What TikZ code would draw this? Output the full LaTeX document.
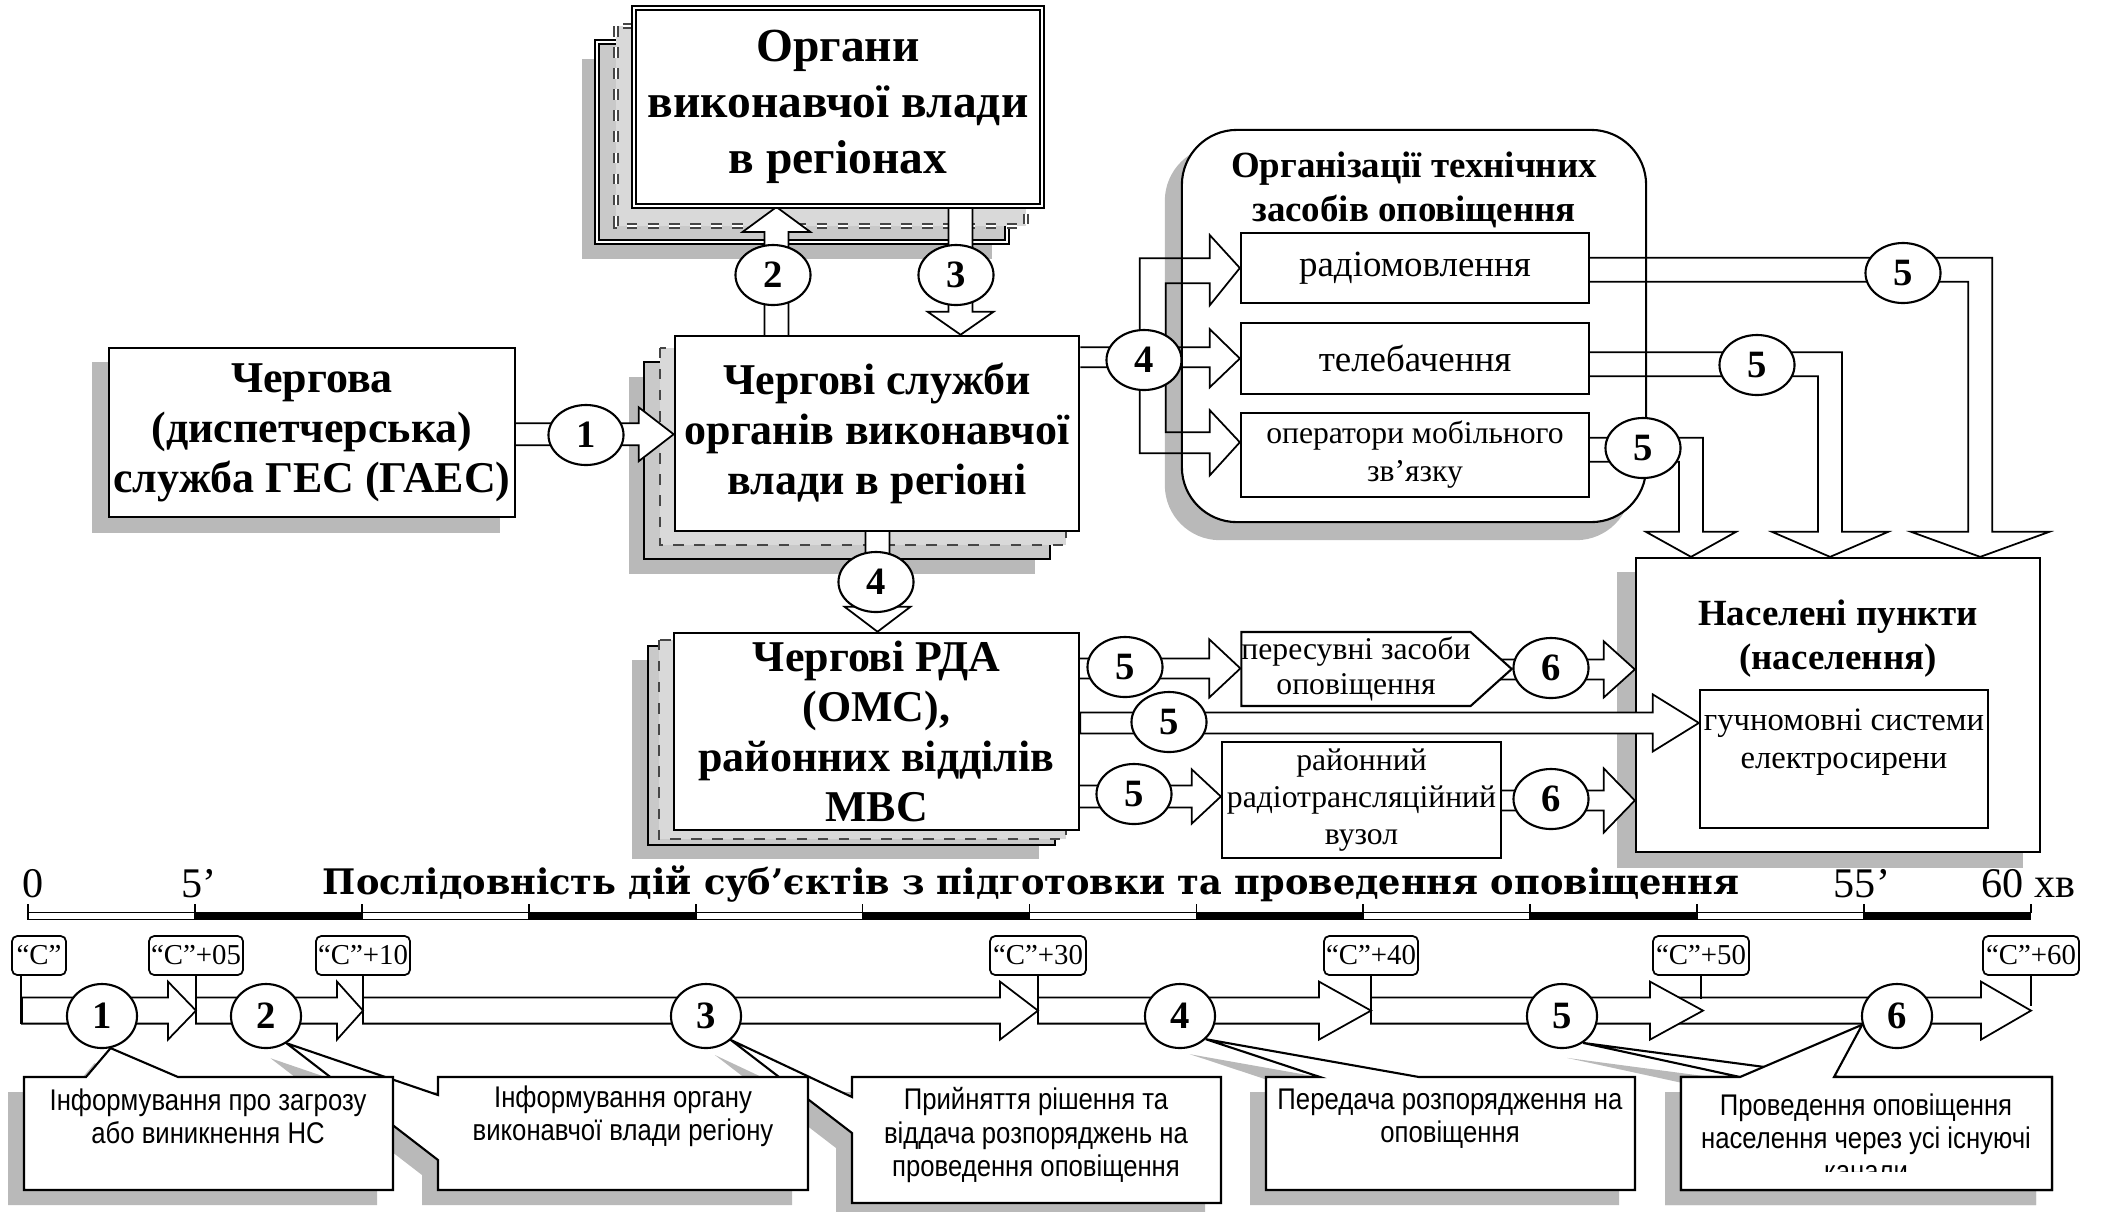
\documentclass[tikz,border=0pt]{standalone}
\usepackage{fontspec}
\setmainfont{Liberation Serif}
\newfontfamily\narrowfont[FakeStretch=0.86]{Liberation Sans}
\newfontfamily\slabfont{DejaVu Serif}
\usetikzlibrary{calc,positioning,shapes.geometric,shapes.symbols}

\pgfdeclarelayer{deep}
\pgfdeclarelayer{shade}
\pgfdeclarelayer{links}
\pgfsetlayers{deep,shade,links,main}

% one pixel of the layout
\def\pxu{0.284528pt}

\tikzset{
  box/.style = {draw, fill=white, line width=0.7pt, inner sep=0pt, align=center},
  bigbox/.style = {box, font=\fontsize{12.5}{14.2}\selectfont\bfseries},
  subbox/.style = {box, line width=0.6pt},
  num/.style = {draw, ellipse, fill=white, line width=0.6pt, inner sep=0pt,
    minimum width=0.75cm, minimum height=0.6cm, font=\fontsize{11}{12}\selectfont\bfseries},
  tnum/.style = {num, minimum width=0.7cm, minimum height=0.64cm},
  barrow/.style = {draw, fill=white, line width=0.5pt},
  openarrow/.style = {draw, line width=0.5pt},
  shadow/.style = {fill=gray!55},
  stackfar/.style = {fill=gray!55},
  stackmid/.style = {draw, fill=gray!42, line width=0.5pt},
  stacknear/.style = {draw=gray!55!black, fill=gray!30, dashed, line width=0.5pt},
  tag/.style = {draw, fill=white, rounded corners=1.5pt, line width=0.5pt, inner sep=0pt,
    minimum height=0.39cm, font=\fontsize{8.2}{10}\selectfont},
  callout/.style = {draw, fill=white, line width=0.6pt},
  calltext/.style = {align=center, inner sep=0pt, font=\narrowfont\fontsize{8.5}{9.4}\selectfont},
  scalelabel/.style = {anchor=base, inner sep=0pt, font=\fontsize{12}{13}\selectfont},
}

% block arrows: from, to, y or x (px), shaft half, head half, head length (px)
\newcommand\blockright[6]{%
  \draw[barrow] let \p1=(#1), \p2=(#2) in
    (\x1,-#3*\pxu+#4*\pxu) -- (\x2-#6*\pxu,-#3*\pxu+#4*\pxu) -- (\x2-#6*\pxu,-#3*\pxu+#5*\pxu)
    -- (\x2,-#3*\pxu) -- (\x2-#6*\pxu,-#3*\pxu-#5*\pxu) -- (\x2-#6*\pxu,-#3*\pxu-#4*\pxu)
    -- (\x1,-#3*\pxu-#4*\pxu) -- cycle;}
\newcommand\blockdown[6]{%
  \draw[barrow] let \p1=(#1), \p2=(#2) in
    (#3*\pxu-#4*\pxu,\y1) -- (#3*\pxu-#4*\pxu,\y2+#6*\pxu) -- (#3*\pxu-#5*\pxu,\y2+#6*\pxu)
    -- (#3*\pxu,\y2) -- (#3*\pxu+#5*\pxu,\y2+#6*\pxu) -- (#3*\pxu+#4*\pxu,\y2+#6*\pxu)
    -- (#3*\pxu+#4*\pxu,\y1) -- cycle;}
\newcommand\blockup[6]{%
  \draw[barrow] let \p1=(#1), \p2=(#2) in
    (#3*\pxu-#4*\pxu,\y1) -- (#3*\pxu-#4*\pxu,\y2-#6*\pxu) -- (#3*\pxu-#5*\pxu,\y2-#6*\pxu)
    -- (#3*\pxu,\y2) -- (#3*\pxu+#5*\pxu,\y2-#6*\pxu) -- (#3*\pxu+#4*\pxu,\y2-#6*\pxu)
    -- (#3*\pxu+#4*\pxu,\y1) -- cycle;}
% right, then down: from, to, y, x, shaft half, head half, head length
\newcommand\blockelbow[7]{%
  \draw[openarrow] let \p1=(#1), \p2=(#2) in
    (\x1,-#3*\pxu+#5*\pxu) -- (#4*\pxu+#5*\pxu,-#3*\pxu+#5*\pxu)
    -- (#4*\pxu+#5*\pxu,\y2+#7*\pxu) -- (#4*\pxu+#6*\pxu,\y2+#7*\pxu) -- (#4*\pxu,\y2)
    -- (#4*\pxu-#6*\pxu,\y2+#7*\pxu) -- (#4*\pxu-#5*\pxu,\y2+#7*\pxu)
    -- (#4*\pxu-#5*\pxu,-#3*\pxu-#5*\pxu) -- (\x1,-#3*\pxu-#5*\pxu);}

% pile of sheets behind a box: node, far, middle, near shift, extra style
\newcommand\stackbg[5]{%
  \begin{pgfonlayer}{shade}
    \fill[stackfar] ([shift={#2}]#1.north west) rectangle ([shift={#2}]#1.south east);
    \draw[stackmid,#5] ([shift={#3}]#1.north west) rectangle ([shift={#3}]#1.south east);
    \draw[stacknear,#5] ([shift={#4}]#1.north west) rectangle ([shift={#4}]#1.south east);
  \end{pgfonlayer}}
\newcommand\shadowof[2]{%
  \begin{pgfonlayer}{deep}
    \fill[shadow] ([shift={#2}]#1.north west) rectangle ([shift={#2}]#1.south east);
  \end{pgfonlayer}}

% callouts: apex, x1, y1, x2, y2, wedge ends
\newcommand\calltop[7]{%
  \begin{pgfonlayer}{deep}
    \fill[shadow] ([shift={(-16,15)}]#1) -- (#6-16,#3+15) -- (#2-16,#3+15) -- (#2-16,#5+15)
      -- (#4-16,#5+15) -- (#4-16,#3+15) -- (#7-16,#3+15) -- cycle;
  \end{pgfonlayer}
  \begin{pgfonlayer}{links}
    \draw[callout] (#1) -- (#6,#3) -- (#2,#3) -- (#2,#5) -- (#4,#5) -- (#4,#3) -- (#7,#3) -- cycle;
  \end{pgfonlayer}}
\newcommand\callleft[7]{%
  \begin{pgfonlayer}{deep}
    \fill[shadow] ([shift={(-16,15)}]#1) -- (#2-16,#6+15) -- (#2-16,#3+15) -- (#4-16,#3+15)
      -- (#4-16,#5+15) -- (#2-16,#5+15) -- (#2-16,#7+15) -- cycle;
  \end{pgfonlayer}
  \begin{pgfonlayer}{links}
    \draw[callout] (#1) -- (#2,#6) -- (#2,#3) -- (#4,#3) -- (#4,#5) -- (#2,#5) -- (#2,#7) -- cycle;
  \end{pgfonlayer}}

\begin{document}
\begin{tikzpicture}[x=0.01cm, y=-0.01cm]
  \useasboundingbox (0,0) rectangle (2112,1211);

  % Regional executive bodies
  \node[bigbox, double, double distance=0.6pt, line width=0.55pt,
        minimum width=4.08cm, minimum height=1.98cm,
        font=\fontsize{13.5}{16}\selectfont\bfseries] (org) at (838,107)
        {Органи\\виконавчої влади\\в регіонах};
  \stackbg{org}{(-51,52)}{(-36,35)}{(-17,19)}{double, double distance=0.6pt}

  % HPP dispatcher and duty services
  \node[bigbox, minimum width=4.06cm, minimum height=1.69cm] (gaes) at (312,432.5)
        {Чергова\\(диспетчерська)\\служба ГЕС (ГАЕС)};
  \shadowof{gaes}{(-16,15)}
  \node[bigbox, minimum width=4.04cm, minimum height=1.95cm] (sl) at (877,433.5)
        {Чергові служби\\органів виконавчої\\влади в регіоні};
  \stackbg{sl}{(-45,42)}{(-30,27)}{(-14,13)}{}
  \node[bigbox, minimum width=4.05cm, minimum height=1.97cm] (rda) at (876.5,731.5)
        {Чергові РДА\\(ОМС),\\районних відділів\\МВС};
  \stackbg{rda}{(-41,28)}{(-25,14)}{(-14,8)}{}

  % Warning facilities
  \begin{pgfonlayer}{shade}
    \node[draw, fill=white, line width=0.6pt, rounded corners=0.55cm,
          minimum width=4.64cm, minimum height=3.92cm] (org2) at (1414,326) {};
  \end{pgfonlayer}
  \begin{pgfonlayer}{deep}
    \fill[shadow, rounded corners=0.55cm] ([shift={(-16,17)}]org2.north west)
      rectangle ([shift={(-16,17)}]org2.south east);
  \end{pgfonlayer}
  \node[font=\fontsize{10.5}{12.5}\selectfont\bfseries, align=center] (org2t) at (1414,190)
        {Організації технічних\\засобів оповіщення};
  \node[subbox, minimum width=3.48cm, minimum height=0.70cm,
        font=\fontsize{10.5}{12}\selectfont] (radio) at (1415,268) {радіомовлення};
  \node[subbox, minimum width=3.48cm, minimum height=0.71cm,
        font=\fontsize{10.5}{12}\selectfont] (tv) at (1415,358.5) {телебачення};
  \node[subbox, minimum width=3.48cm, minimum height=0.84cm,
        font=\fontsize{9}{10.8}\selectfont] (mob) at (1415,455) {оператори мобільного\\зв’язку};

  % Settlements
  \node[box, line width=0.6pt, minimum width=4.04cm, minimum height=2.94cm] (pop) at (1838,705) {};
  \shadowof{pop}{(-18,15)}
  \node[font=\fontsize{10.5}{12.5}\selectfont\bfseries, align=center] (popt) at (1838,639)
        {Населені пункти\\(населення)};
  \node[subbox, minimum width=2.88cm, minimum height=1.38cm] (gm) at (1844,759) {};
  \node[font=\fontsize{9.3}{10.8}\selectfont, align=center] (gmt) at (1844,742)
        {гучномовні системи\\електросирени};

  % District means
  \node[draw, fill=white, line width=0.6pt, signal, signal to=east, signal from=nowhere,
        signal pointer angle=84, minimum width=2.70cm, minimum height=0.74cm, inner sep=0pt,
        align=center, font=\fontsize{9}{9.9}\selectfont] (pers) at (1356,669)
        {пересувні засоби\\оповіщення};
  \node[subbox, minimum width=2.79cm, minimum height=1.16cm,
        font=\fontsize{9}{10.6}\selectfont] (rrv) at (1361.5,800)
        {районний\\радіотрансляційний\\вузол};

  % Connect the boxes
  \begin{pgfonlayer}{links}
    \blockright{gaes.center}{sl.west}{434}{11}{27}{35}
    \blockup{sl.center}{org.south}{776}{12}{34}{25}
    \blockdown{org.center}{sl.north}{960}{12}{33}{23}
    \blockdown{sl.center}{rda.north}{877}{12}{33}{25}
    \blockright{rda.center}{pers.west}{668}{10}{29}{31}
    \blockright{pers.center}{pop.west}{669}{10}{28}{31}
    \blockright{rda.center}{rrv.west}{796}{11}{27}{29}
    \blockright{rrv.center}{pop.west}{800}{10}{32}{31}
    % fork to the three facilities
    \draw[openarrow] let \p1=(sl.east), \p2=(radio.west), \p3=(tv.west), \p4=(mob.west) in
      (\x1,-347*\pxu) -- (1139*\pxu,-347*\pxu) -- (1139*\pxu,-258*\pxu)
      -- (\x2-30*\pxu,-258*\pxu) -- (\x2-30*\pxu,-235*\pxu) -- (\x2,\y2)
      -- (\x2-30*\pxu,-305*\pxu) -- (\x2-30*\pxu,-283*\pxu) -- (1165*\pxu,-283*\pxu)
      -- (1165*\pxu,-347*\pxu) -- (\x3-30*\pxu,-347*\pxu) -- (\x3-30*\pxu,-329*\pxu)
      -- (\x3,\y3) -- (\x3-30*\pxu,-387*\pxu) -- (\x3-30*\pxu,-367*\pxu)
      -- (1165*\pxu,-367*\pxu) -- (1165*\pxu,-432*\pxu) -- (\x4-30*\pxu,-432*\pxu)
      -- (\x4-30*\pxu,-410*\pxu) -- (\x4,-442*\pxu) -- (\x4-30*\pxu,-475*\pxu)
      -- (\x4-30*\pxu,-453*\pxu) -- (1139*\pxu,-453*\pxu) -- (1139*\pxu,-367*\pxu)
      -- (\x1,-367*\pxu);
    \blockelbow{radio.east}{pop.north}{269.5}{1979}{12}{69}{25}
    \blockelbow{tv.east}{pop.north}{364}{1829}{12}{58}{25}
    \blockelbow{mob.east}{pop.north}{449.5}{1690}{12}{45}{25}
  \end{pgfonlayer}
  \blockright{rda.east}{gm.west}{722.5}{10.5}{28.5}{46}

  % Step numbers
  \node[num] (n1) at (586,435) {1};
  \node[num] (n2) at (773,275) {2};
  \node[num] (n3) at (956,275) {3};
  \node[num] (n4a) at (1144,360) {4};
  \node[num] (n4b) at (876,582) {4};
  \node[num] (n5r) at (1903,273) {5};
  \node[num] (n5t) at (1757,365) {5};
  \node[num] (n5m) at (1643,448) {5};
  \node[num] (n5a) at (1125,667) {5};
  \node[num] (n5b) at (1169,722) {5};
  \node[num] (n5c) at (1134,794) {5};
  \node[num] (n6a) at (1551,668) {6};
  \node[num] (n6c) at (1551,799) {6};

  % Time scale
  \node[anchor=base, inner sep=0pt, font=\slabfont\bfseries\fontsize{10}{12}\selectfont] (ttl) at (1031,894)
        {Послідовність дій суб’єктів з підготовки та проведення оповіщення};
  \node[scalelabel] (m0) at (33,897) {0};
  \node[scalelabel] (m5) at (199,897) {5’};
  \node[scalelabel] (m55) at (1862,897) {55’};
  \node[scalelabel, anchor=base west] (m60) at (1981,897) {60 хв};
  \foreach \i in {0,...,11} {
    \ifodd\i
      \fill ({28+166.92*\i},912) rectangle ({28+166.92*(\i+1)},920);
    \else
      \draw[line width=0.5pt] ({28+166.92*\i},912.5) rectangle ({28+166.92*(\i+1)},919.5);
    \fi
  }
  \foreach \i in {0,...,12}
    \draw[line width=0.5pt] ({28+166.92*\i},904) -- ({28+166.92*\i},913);

  % Signal marks
  \node[tag, minimum width=0.54cm] (c0) at (39,955.5) {“С”};
  \node[tag, minimum width=0.94cm] (c5) at (196,955.5) {“С”+05};
  \node[tag, minimum width=0.94cm] (c10) at (363,955.5) {“С”+10};
  \node[tag, minimum width=0.96cm] (c30) at (1038,955.5) {“С”+30};
  \node[tag, minimum width=0.94cm] (c40) at (1371,955.5) {“С”+40};
  \node[tag, minimum width=0.96cm] (c50) at (1701,955.5) {“С”+50};
  \node[tag, minimum width=0.96cm] (c60) at (2031,955.5) {“С”+60};
  \coordinate (k0) at (22,1010);
  \coordinate (k5) at (196,1010);
  \coordinate (k10) at (363,1010);
  \coordinate (k30) at (1038,1010);
  \coordinate (k40) at (1371,1010);
  \coordinate (k50) at (1703,1010);
  \coordinate (k55) at (1660,1010);
  \coordinate (k60) at (2031,1010);
  \begin{pgfonlayer}{links}
    \blockright{k55}{k60}{1010}{13}{29}{50}
    \blockright{k40}{k50}{1010}{13}{29}{53}
    \blockright{k30}{k40}{1010}{13}{29}{52}
    \blockright{k10}{k30}{1010}{13}{29}{38}
    \blockright{k5}{k10}{1010}{13}{29}{26}
    \blockright{k0}{k5}{1010}{13}{29}{28}
    \draw[line width=0.5pt] ([xshift=0.1cm]c0.south west) -- ++(0,48);
    \foreach \c in {c5,c10,c30,c40}
      \draw[line width=0.5pt] (\c.south) -- ++(0,48);
    \draw[line width=0.5pt] (c50.south) -- ++(0,23);
    \draw[line width=0.5pt] (c60.south) -- ++(0,30);
  \end{pgfonlayer}

  \node[tnum] (t1) at (102,1016) {1};
  \node[tnum] (t2) at (266,1016) {2};
  \node[tnum] (t3) at (706,1016) {3};
  \node[tnum] (t4) at (1180,1016) {4};
  \node[tnum] (t5) at (1562,1016) {5};
  \node[tnum] (t6) at (1897,1016) {6};

  % Callouts
  \calltop{t5.-52}{1681}{1077}{2052}{1190}{1740}{1840}
  \calltop{t6.194}{1681}{1077}{2052}{1190}{1740}{1834}
  \calltop{t4.-42}{1266}{1077}{1635}{1190}{1320}{1419}
  \callleft{t3.-44}{852}{1077}{1221}{1203}{1097}{1133}
  \callleft{t2.-53}{438}{1077}{808}{1190}{1095}{1160}
  \calltop{t1.-75}{24}{1077}{393}{1190}{86}{178}

  \node[calltext] (cb1) at (208,1116) {Інформування про загрозу\\або виникнення НС};
  \node[calltext] (cb2) at (623,1116) {Інформування органу\\виконавчої влади регіону};
  \node[calltext] (cb3) at (1036,1135) {Прийняття рішення та\\віддача розпоряджень на\\проведення оповіщення};
  \node[calltext] (cb4) at (1450,1119) {Передача розпорядження на\\оповіщення};
  \begin{scope}
    \clip (1681,1077) rectangle (2052,1171);
    \node[calltext] (cb5) at (1866,1138) {Проведення оповіщення\\населення через усі існуючі\\канали};
  \end{scope}
\end{tikzpicture}
\end{document}
